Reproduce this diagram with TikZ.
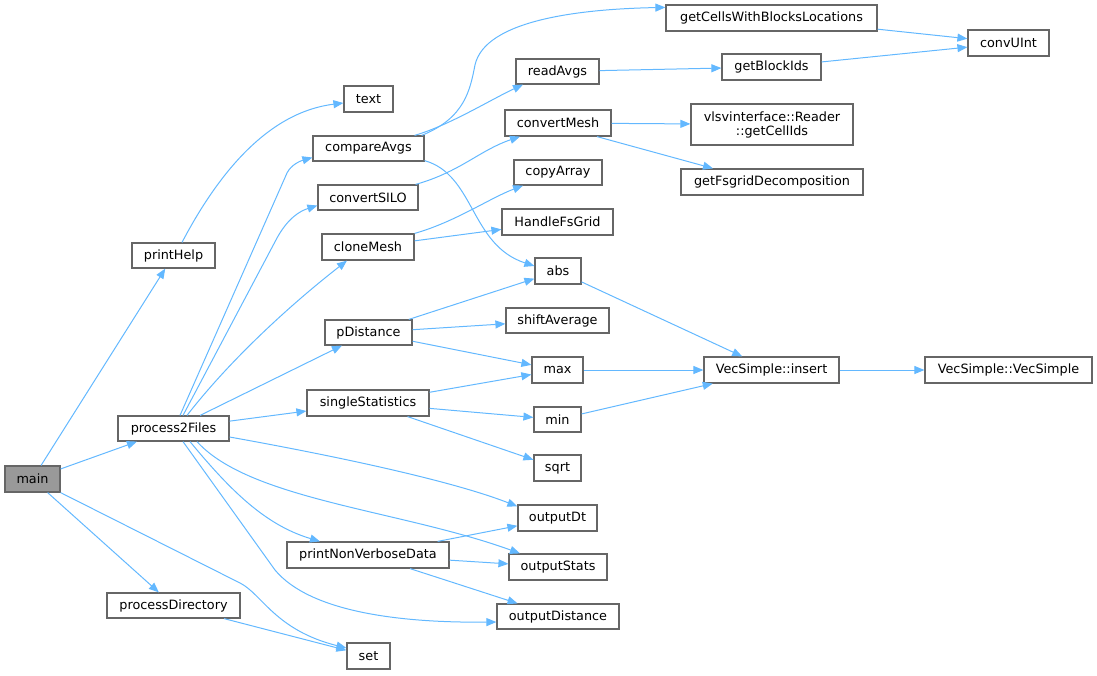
\documentclass[tikz,border=0pt]{standalone}
\usepackage{fontspec}
\setmainfont{DejaVu Sans}
\usetikzlibrary{arrows.meta}
\definecolor{edgeblue}{HTML}{63B8FF}
\definecolor{boxgray}{HTML}{666666}
\definecolor{mainfill}{HTML}{999999}
\newcommand{\fnfont}{\fontsize{12.8}{14}\selectfont}
\begin{document}
\begin{tikzpicture}[x=1pt,y=-1pt,
  fn/.style={draw=boxgray, line width=1.2pt, fill=white, inner sep=0pt, font=\fnfont, text=black, align=center},
  edge/.style={draw=edgeblue, line width=1pt, -{Triangle[length=10pt,width=8pt]}}]
\useasboundingbox (0,0) rectangle (1097,675);
% column 1
\node[fn, fill=mainfill, minimum width=55pt, minimum height=26pt] (main) at (32.5,479) {main};
% column 2
\node[fn, minimum width=83pt, minimum height=25pt] (printHelp) at (173.5,255.5) {printHelp};
\node[fn, minimum width=111pt, minimum height=25pt] (process2Files) at (173.5,428.5) {process2Files};
\node[fn, minimum width=133pt, minimum height=25pt] (processDirectory) at (173.5,605.5) {processDirectory};
% column 3
\node[fn, minimum width=49pt, minimum height=26pt] (text) at (368.5,99) {text};
\node[fn, minimum width=111pt, minimum height=25pt] (compareAvgs) at (368.5,148.5) {compareAvgs};
\node[fn, minimum width=100pt, minimum height=25pt] (convertSILO) at (368,197.5) {convertSILO};
\node[fn, minimum width=92pt, minimum height=26pt] (cloneMesh) at (368,247) {cloneMesh};
\node[fn, minimum width=87pt, minimum height=25pt] (pDistance) at (368.5,332.5) {pDistance};
\node[fn, minimum width=122pt, minimum height=26pt] (singleStatistics) at (368,403) {singleStatistics};
\node[fn, minimum width=162pt, minimum height=26pt] (printNonVerboseData) at (368,555) {printNonVerboseData};
\node[fn, minimum width=43pt, minimum height=26pt] (set) at (368.5,656) {set};
% column 4
\node[fn, minimum width=83pt, minimum height=25pt] (readAvgs) at (557.5,71.5) {readAvgs};
\node[fn, minimum width=106pt, minimum height=26pt] (convertMesh) at (558,123) {convertMesh};
\node[fn, minimum width=88pt, minimum height=25pt] (copyArray) at (558,172.5) {copyArray};
\node[fn, minimum width=111pt, minimum height=26pt] (HandleFsGrid) at (557.5,222) {HandleFsGrid};
\node[fn, minimum width=46pt, minimum height=26pt] (abs) at (558,271) {abs};
\node[fn, minimum width=103pt, minimum height=25pt] (shiftAverage) at (557.5,320.5) {shiftAverage};
\node[fn, minimum width=51pt, minimum height=26pt] (max) at (557.5,370) {max};
\node[fn, minimum width=47pt, minimum height=25pt] (min) at (557.5,419.5) {min};
\node[fn, minimum width=47pt, minimum height=26pt] (sqrt) at (557.5,468) {sqrt};
\node[fn, minimum width=79pt, minimum height=26pt] (outputDt) at (557.5,518) {outputDt};
\node[fn, minimum width=98pt, minimum height=26pt] (outputStats) at (558,567) {outputStats};
\node[fn, minimum width=122pt, minimum height=25pt] (outputDistance) at (558,616.5) {outputDistance};
% column 5
\node[fn, minimum width=211pt, minimum height=26pt] (getCells) at (771.5,18) {getCellsWithBlocksLocations};
\node[fn, minimum width=99pt, minimum height=26pt] (getBlockIds) at (771.5,67) {getBlockIds};
\node[fn, minimum width=162pt, minimum height=41pt] (getCellIds) at (772,124.5) {vlsvinterface::Reader\\::getCellIds};
\node[fn, minimum width=182pt, minimum height=26pt] (getFsgrid) at (772,182) {getFsgridDecomposition};
\node[fn, minimum width=135pt, minimum height=26pt] (insert) at (771.5,370) {VecSimple::insert};
% column 6
\node[fn, minimum width=81pt, minimum height=26pt] (convUInt) at (1008.5,43) {convUInt};
\node[fn, minimum width=167pt, minimum height=26pt] (vecsimple) at (1008.5,370) {VecSimple::VecSimple};
% edges from main
\draw[edge] (main) -- (printHelp);
\draw[edge] (main) -- (process2Files);
\draw[edge] (main) -- (processDirectory);
\draw[edge] (main.south east) -- (240,583) .. controls (262,594) and (275,630) .. ([yshift=8pt]set.west);
\draw[edge] (processDirectory) -- (set);
\draw[edge] ([xshift=8.5pt]printHelp.north) .. controls (220,170) and (270,112) .. ([yshift=-4pt]text.west);
% edges from process2Files
\draw[edge] ([xshift=6.5pt]process2Files.north) -- (287,173) .. controls (291,165) and (300,161) .. ([yshift=-9pt]compareAvgs.west);
\draw[edge] ([xshift=9.5pt]process2Files.north) -- (277,238) .. controls (288,218) and (300,211) .. ([yshift=-8pt]convertSILO.west);
\draw[edge] ([xshift=13.5pt]process2Files.north) .. controls (230,360) and (290,305) .. ([xshift=-21pt]cloneMesh.south);
\draw[edge] (process2Files) -- (pDistance);
\draw[edge] (process2Files) -- (singleStatistics);
\draw[edge] ([yshift=-8.5pt]process2Files.east) .. controls (330,455) and (450,480) .. ([yshift=-2pt]outputDt.north west);
\draw[edge] ([xshift=23.5pt]process2Files.south) .. controls (250,500) and (400,510) .. ([xshift=-38pt]outputStats.north);
\draw[edge] ([xshift=16.5pt]process2Files.south) .. controls (230,490) and (265,525) .. ([xshift=-48pt]printNonVerboseData.north);
\draw[edge] ([xshift=9.5pt]process2Files.south) -- (275,570) .. controls (310,612) and (400,623) .. ([yshift=-5.5pt]outputDistance.west);
% column 3 edges
\draw[edge] ([xshift=-3pt]compareAvgs.north east) .. controls (465,118) and (470,90) .. (475,65) .. controls (485,20) and (580,9) .. ([yshift=-3pt]getCells.north west);
\draw[edge] ([xshift=-10pt]compareAvgs.north east) .. controls (450,125) and (490,100) .. ([xshift=-34.5pt]readAvgs.south);
\draw[edge] ([yshift=1pt]compareAvgs.south east) .. controls (475,175) and (470,245) .. ([yshift=5pt]abs.west);
\draw[edge] ([xshift=-3pt]convertSILO.north east) .. controls (460,172) and (480,150) .. ([xshift=-38pt]convertMesh.south);
\draw[edge] (cloneMesh.north east) .. controls (455,222) and (490,198) .. ([xshift=-35pt]copyArray.south);
\draw[edge] (cloneMesh) -- (HandleFsGrid);
\draw[edge] (pDistance) -- (abs);
\draw[edge] (pDistance) -- (shiftAverage);
\draw[edge] (pDistance) -- (max);
\draw[edge] (singleStatistics) -- (max);
\draw[edge] (singleStatistics) -- (min);
\draw[edge] (singleStatistics) -- (sqrt);
\draw[edge] (printNonVerboseData) -- (outputDt);
\draw[edge] (printNonVerboseData) -- (outputStats);
\draw[edge] (printNonVerboseData) -- (outputDistance);
% column 4 edges
\draw[edge] (readAvgs) -- (getBlockIds);
\draw[edge] (convertMesh) -- (getCellIds);
\draw[edge] ([xshift=39pt]convertMesh.south) -- ([xshift=-59pt]getFsgrid.north);
\draw[edge] (abs) -- (insert);
\draw[edge] (max) -- (insert);
\draw[edge] (min) -- (insert);
% column 5 edges
\draw[edge] (getCells) -- (convUInt);
\draw[edge] (getBlockIds) -- (convUInt);
\draw[edge] (insert) -- (vecsimple);
\end{tikzpicture}
\end{document}
